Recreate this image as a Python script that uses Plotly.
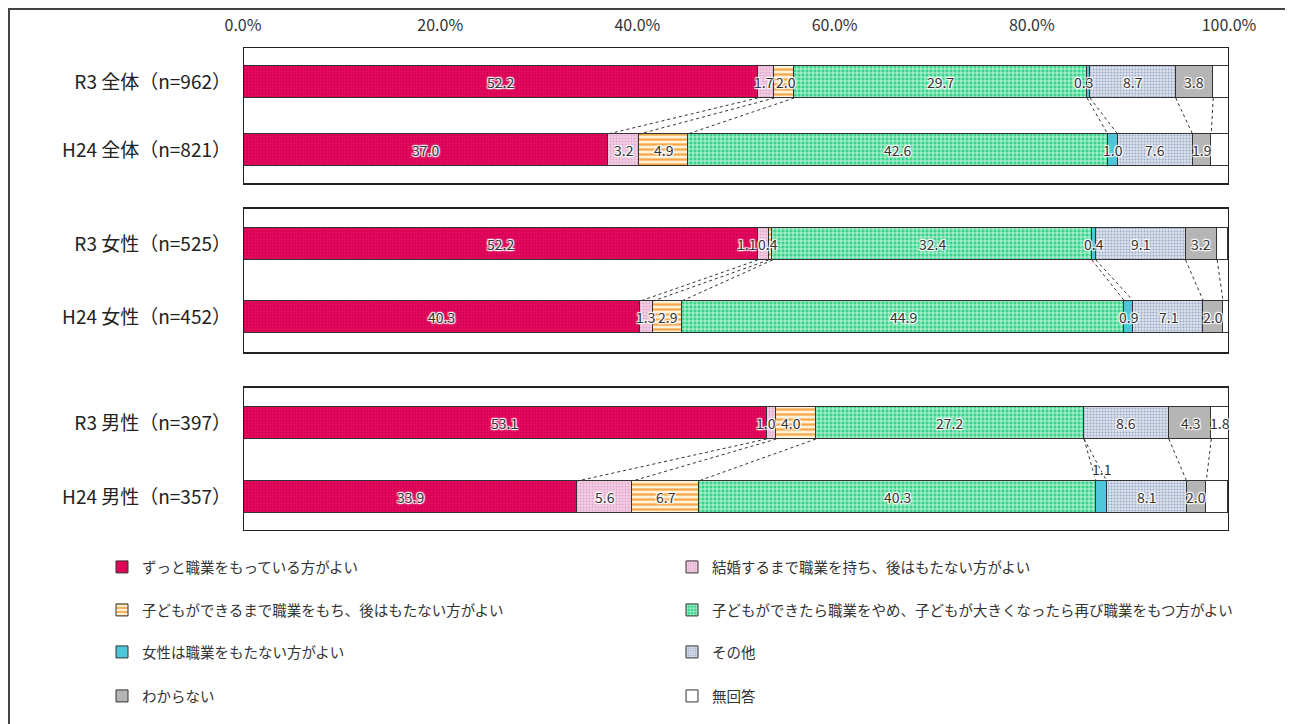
import plotly.graph_objects as go

# ---------------- data ----------------
categories = ["R3 全体（n=962）", "H24 全体（n=821）",
              "R3 女性（n=525）", "H24 女性（n=452）",
              "R3 男性（n=397）", "H24 男性（n=357）"]

series_names = [
    "ずっと職業をもっている方がよい",
    "結婚するまで職業を持ち、後はもたない方がよい",
    "子どもができるまで職業をもち、後はもたない方がよい",
    "子どもができたら職業をやめ、子どもが大きくなったら再び職業をもつ方がよい",
    "女性は職業をもたない方がよい",
    "その他",
    "わからない",
    "無回答",
]

zutto = [52.2, 37.0, 52.2, 40.3, 53.1, 33.9]
kekkon_made = [1.7, 3.2, 1.1, 1.3, 1.0, 5.6]
kodomo_made = [2.0, 4.9, 0.4, 2.9, 4.0, 6.7]
kodomo_saishu = [29.7, 42.6, 32.4, 44.9, 27.2, 40.3]
motanai = [0.3, 1.0, 0.4, 0.9, 0.0, 1.1]
sonota = [8.7, 7.6, 9.1, 7.1, 8.6, 8.1]
wakaranai = [3.8, 1.9, 3.2, 2.0, 4.3, 2.0]
mukaito = [1.6, 1.8, 1.1, 0.7, 1.8, 2.2]

series_values = [zutto, kekkon_made, kodomo_made, kodomo_saishu,
                 motanai, sonota, wakaranai, mukaito]

tick_values = [0, 20, 40, 60, 80, 100]
tick_labels = ["0.0%", "20.0%", "40.0%", "60.0%", "80.0%", "100.0%"]

# ---------------- layout constants (window-pixel y units) ----------------
OFF = 8                      # page body margin
ROW_Y = [82, 150, 244, 317, 423, 497]
PANELS = [(47, 184), (208, 353), (387, 531)]
BAR_W = 32
Y_TOP, Y_BOT = 47, 531
X0_PX, X1_PX = 243, 1229
FIG_W, FIG_H = 1285, 716

# label placement flags (style)
outside_last = [True, True, True, True, False, True]   # 無回答 label right of bar
above_small = [False, False, False, False, False, True]  # 女性は… label above bar
NUDGE = {(1, 0): -2, (2, 0): 2, (1, 2): -17, (2, 2): -3, (4, 0): -5,
         (1, 4): -6, (2, 4): -5, (1, 3): -1, (2, 3): 1}

FONT = "Noto Sans CJK JP"
HALO = ("1px 1px 1px #fff, -1px -1px 1px #fff, 1px -1px 1px #fff, "
        "-1px 1px 1px #fff, 0 0 3px #fff")
LABEL_SIZE = 14

styles = [
    dict(shape=".", bg="#E8085E", fg="#C80050", size=3, sol=0.3),
    dict(shape=".", bg="#F3CDE4", fg="#E0A8CC", size=3, sol=0.3),
    dict(shape="-", bg="#FFF2D8", fg="#F5A64A", size=5, sol=0.45),
    dict(shape="+", bg="#35D68A", fg="#FFFFFF", size=4, sol=0.3),
    dict(shape="", bg="#4EC6DA", fg="#4EC6DA", size=4, sol=0.3),
    dict(shape=".", bg="#DCE3EF", fg="#9AA8C4", size=3, sol=0.35),
    dict(shape="", bg="#B5B5B5", fg="#B5B5B5", size=4, sol=0.3),
    dict(shape="", bg="#FFFFFF", fg="#FFFFFF", size=4, sol=0.3),
]

legend_of = ["legend", "legend", "legend2", "legend2",
             "legend3", "legend3", "legend4", "legend4"]


def px_to_paper_x(px):
    return (px - X0_PX) / (X1_PX - X0_PX)


def px_to_paper_y(py):
    return (Y_BOT - py) / (Y_BOT - Y_TOP)


fig = go.Figure()

for si, (name, vals) in enumerate(zip(series_names, series_values)):
    st = styles[si]
    fig.add_trace(go.Bar(
        name=name,
        x=vals,
        y=ROW_Y,
        orientation="h",
        width=BAR_W,
        marker=dict(
            color=st["bg"],
            line=dict(color="#333333", width=1),
            pattern=dict(shape=st["shape"], fgcolor=st["fg"], bgcolor=st["bg"],
                         size=st["size"], solidity=st["sol"], fillmode="replace"),
        ),
        legend=legend_of[si],
        hoverinfo="skip",
    ))

# panel frames
shapes = []
for (a, b) in PANELS:
    shapes.append(dict(type="rect", xref="x", yref="y", x0=0, x1=100, y0=a, y1=b,
                       line=dict(color="#222222", width=2), fillcolor="rgba(0,0,0,0)",
                       layer="above"))

# dotted connectors between the pair of bars in each panel
for p in range(3):
    ra, rb = 2 * p, 2 * p + 1
    ca = cb = 0.0
    for si in range(7):
        ca += series_values[si][ra]
        cb += series_values[si][rb]
        shapes.append(dict(type="line", xref="x", yref="y",
                           x0=ca, y0=ROW_Y[ra] + BAR_W / 2,
                           x1=cb, y1=ROW_Y[rb] - BAR_W / 2,
                           line=dict(color="#333333", width=1, dash="dot")))

# outer frame
shapes.append(dict(type="rect", xref="paper", yref="paper",
                   x0=px_to_paper_x(OFF + 1), x1=px_to_paper_x(1291),
                   y0=px_to_paper_y(760), y1=px_to_paper_y(OFF + 1),
                   line=dict(color="#444444", width=2), fillcolor="rgba(0,0,0,0)"))

# value labels (computed from the data through the axes)
annotations = []
for ri in range(6):
    cum = 0.0
    for si in range(8):
        v = series_values[si][ri]
        center = cum + v / 2
        cum += v
        if v == 0:
            continue
        txt = f"{v:.1f}"
        if si == 7 and outside_last[ri]:
            annotations.append(dict(x=102, y=ROW_Y[ri], xref="x", yref="y",
                                    text=txt, showarrow=False,
                                    xanchor="center", yanchor="middle",
                                    font=dict(family=FONT, size=LABEL_SIZE,
                                              color="#333333")))
            continue
        if si == 4 and above_small[ri]:
            annotations.append(dict(x=center, y=ROW_Y[ri] - BAR_W / 2,
                                    xref="x", yref="y", text=txt,
                                    showarrow=False, xanchor="center",
                                    yanchor="bottom", yshift=0,
                                    font=dict(family=FONT, size=LABEL_SIZE,
                                              color="#333333", shadow=HALO)))
            continue
        annotations.append(dict(x=center, y=ROW_Y[ri], xref="x", yref="y",
                                text=txt, showarrow=False,
                                xanchor="center", yanchor="middle",
                                xshift=NUDGE.get((si, ri), 0),
                                font=dict(family=FONT, size=LABEL_SIZE,
                                          color="#333333", shadow=HALO)))

legend_rows = [567, 610, 652, 696]
legend_common = dict(orientation="h", entrywidth=525, entrywidthmode="pixels",
                     x=px_to_paper_x(102), xanchor="left", yanchor="middle",
                     font=dict(family=FONT, size=14.5, color="#333333"),
                     bgcolor="rgba(0,0,0,0)", traceorder="normal")

fig.update_layout(
    width=FIG_W, height=FIG_H,
    margin=dict(l=X0_PX - OFF, r=FIG_W - (X1_PX - OFF), t=Y_TOP - OFF,
                b=FIG_H - (Y_BOT - OFF), pad=0, autoexpand=False),
    paper_bgcolor="white", plot_bgcolor="white",
    barmode="stack",
    bargap=0,
    font=dict(family=FONT, color="#333333"),
    xaxis=dict(range=[0, 100], side="top", tickvals=tick_values, ticktext=tick_labels,
               showgrid=False, zeroline=False, showline=False, ticks="",
               ticklabelstandoff=12, automargin=False,
               tickfont=dict(family=FONT, size=16, color="#333333"),
               fixedrange=True),
    yaxis=dict(range=[Y_BOT, Y_TOP], tickvals=ROW_Y, ticktext=categories,
               showgrid=False, zeroline=False, showline=False, ticks="",
               ticklabelstandoff=11, automargin=False,
               tickfont=dict(family=FONT, size=19, color="#222222"),
               fixedrange=True),
    shapes=shapes,
    annotations=annotations,
    legend=dict(legend_common, y=px_to_paper_y(legend_rows[0])),
    legend2=dict(legend_common, y=px_to_paper_y(legend_rows[1])),
    legend3=dict(legend_common, y=px_to_paper_y(legend_rows[2])),
    legend4=dict(legend_common, y=px_to_paper_y(legend_rows[3])),
    showlegend=True,
)

fig.write_html("out.html")
